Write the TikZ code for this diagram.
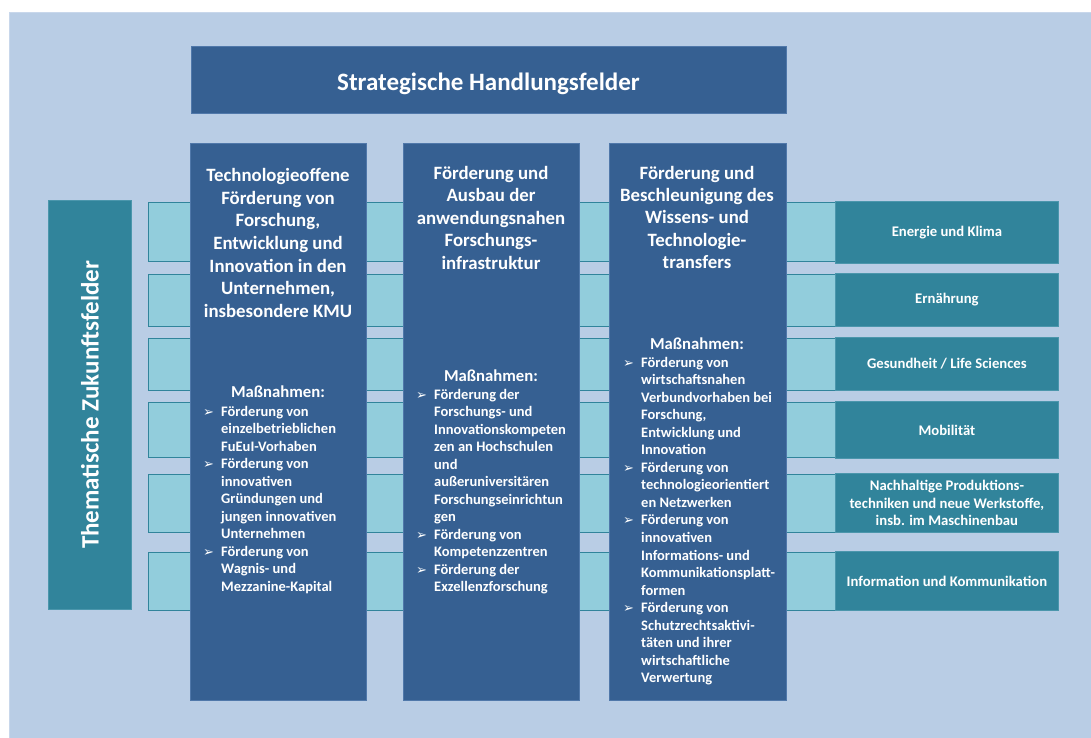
\documentclass[tikz,border=0pt]{standalone}
\usepackage{fontspec}
\setmainfont{Carlito}
\newfontfamily\dejavu{DejaVu Sans}
\definecolor{panelbg}{RGB}{185,205,229}
\definecolor{panelline}{RGB}{200,215,235}
\definecolor{darkblue}{RGB}{54,96,146}
\definecolor{darkblueline}{RGB}{80,120,170}
\definecolor{tealbox}{RGB}{49,132,155}
\definecolor{tealline}{RGB}{75,150,172}
\definecolor{cyanstrip}{RGB}{146,205,220}
\definecolor{stripline}{RGB}{49,132,155}
\newcommand{\bul}{\makebox[18pt][l]{{\dejavu\fontsize{13}{13}\selectfont ➢}}}
\newcommand{\ind}{\hspace*{18pt}}
\tikzset{
  panel/.style={fill=panelbg, draw=panelline, line width=0.6pt, inner sep=0pt, anchor=north west},
  colbox/.style={fill=darkblue, draw=darkblueline, line width=0.8pt, inner sep=0pt, anchor=north west},
  fieldbox/.style={fill=tealbox, draw=tealline, line width=0.8pt, inner sep=0pt, anchor=north west},
  stripbox/.style={fill=cyanstrip, draw=stripline, line width=1.3pt, inner sep=0pt, anchor=north west},
  headtxt/.style={text=white, inner sep=0pt, font=\bfseries},
  listtxt/.style={text=white, inner sep=0pt, font=\bfseries},
  masstxt/.style={text=white, inner sep=0pt, font=\bfseries\fontsize{16.7}{19}\selectfont},
  fieldtxt/.style={text=white, inner sep=0pt, align=center, font=\bfseries\fontsize{14.7}{17.8}\selectfont},
}
\begin{document}
\begin{tikzpicture}[x=1pt,y=-1pt]
\useasboundingbox (0,0) rectangle (1091,738);
\fill[white] (0,0) rectangle (1091,738);
\node[panel, minimum width=1090, minimum height=733] (bg) at (9,12) {};

% strips
\node[stripbox, minimum width=697, minimum height=59] (s1) at (148,202) {};
\node[stripbox, minimum width=697, minimum height=52] (s2) at (148,274) {};
\node[stripbox, minimum width=697, minimum height=52] (s3) at (148,338) {};
\node[stripbox, minimum width=697, minimum height=55] (s4) at (148,402) {};
\node[stripbox, minimum width=697, minimum height=58] (s5) at (148,474) {};
\node[stripbox, minimum width=697, minimum height=58] (s6) at (148,552) {};

% field boxes
\node[fieldbox, minimum width=223, minimum height=62] (f1) at (835,201) {};
\node[fieldbox, minimum width=223, minimum height=53] (f2) at (835,273) {};
\node[fieldbox, minimum width=223, minimum height=53] (f3) at (835,337) {};
\node[fieldbox, minimum width=223, minimum height=57] (f4) at (835,401) {};
\node[fieldbox, minimum width=223, minimum height=59] (f5) at (835,473) {};
\node[fieldbox, minimum width=223, minimum height=59] (f6) at (835,551) {};
\node[fieldtxt] (t1) at (f1.center) {Energie und Klima};
\node[fieldtxt] (t2) at (f2.center) {Ernährung};
\node[fieldtxt] (t3) at (f3.center) {Gesundheit / Life Sciences};
\node[fieldtxt] (t4) at (f4.center) {Mobilität};
\node[fieldtxt] (t5) at (f5.center) {Nachhaltige Produktions-\\techniken und neue Werkstoffe,\\insb. im Maschinenbau};
\node[fieldtxt] (t6) at (f6.center) {Information und Kommunikation};

% left box
\node[fieldbox, minimum width=83, minimum height=409] (lb) at (48,200) {};
\node[text=white, inner sep=0pt, rotate=90, font=\bfseries\fontsize{25}{29}\selectfont] (vt) at (lb.center) {Thematische Zukunftsfelder};

% title
\node[colbox, minimum width=595, minimum height=67] (title) at (191,46) {};
\node[text=white, inner sep=0pt, anchor=base, font=\bfseries\fontsize{25}{29}\selectfont] (tt) at (488.5,91) {Strategische Handlungsfelder};

% columns
\node[colbox, minimum width=176, minimum height=557] (c1) at (190,143) {};
\node[colbox, minimum width=176, minimum height=557] (c2) at (403,143) {};
\node[colbox, minimum width=177, minimum height=557] (c3) at (609,143) {};

\node[headtxt, anchor=base] (c1h) at (278,182) {\parbox[t]{175pt}{\centering\fontsize{18.8}{22.5}\selectfont Technologieoffene\\Förderung von\\Forschung,\\Entwicklung und\\Innovation in den\\Unternehmen,\\insbesondere KMU}};
\node[headtxt, anchor=base] (c2h) at (491,179) {\parbox[t]{175pt}{\centering\fontsize{18.8}{22.6}\selectfont Förderung und\\Ausbau der\\anwendungsnahen\\Forschungs-\\infrastruktur}};
\node[headtxt, anchor=base] (c3h) at (697,179) {\parbox[t]{176pt}{\centering\fontsize{18.8}{22.4}\selectfont Förderung und\\Beschleunigung des\\Wissens- und\\Technologie-\\transfers}};

\node[masstxt, anchor=base] (c1mh) at (278,397) {Maßnahmen:};
\node[masstxt, anchor=base] (c2mh) at (491,381) {Maßnahmen:};
\node[masstxt, anchor=base] (c3mh) at (697,349) {Maßnahmen:};

\node[listtxt, anchor=base west] (c1m) at (203,416) {\parbox[t]{180pt}{\raggedright\fontsize{14.5}{17.5}\selectfont
\bul Förderung von\\ \ind einzelbetrieblichen\\ \ind FuEuI-Vorhaben\\
\bul Förderung von\\ \ind innovativen\\ \ind Gründungen und\\ \ind jungen innovativen\\ \ind Unternehmen\\
\bul Förderung von\\ \ind Wagnis- und\\ \ind Mezzanine-Kapital}};

\node[listtxt, anchor=base west] (c2m) at (416,399) {\parbox[t]{180pt}{\raggedright\fontsize{14.5}{17.5}\selectfont
\bul Förderung der\\ \ind Forschungs- und\\ \ind Innovationskompeten\\ \ind zen an Hochschulen\\ \ind und\\ \ind außeruniversitären\\ \ind Forschungseinrichtun\\ \ind gen\\
\bul Förderung von\\ \ind Kompetenzzentren\\
\bul Förderung der\\ \ind Exzellenzforschung}};

\node[listtxt, anchor=base west] (c3m) at (623,367) {\parbox[t]{180pt}{\raggedright\fontsize{14.5}{17.55}\selectfont
\bul Förderung von\\ \ind wirtschaftsnahen\\ \ind Verbundvorhaben bei\\ \ind Forschung,\\ \ind Entwicklung und\\ \ind Innovation\\
\bul Förderung von\\ \ind technologieorientiert\\ \ind en Netzwerken\\
\bul Förderung von\\ \ind innovativen\\ \ind Informations- und\\ \ind Kommunikationsplatt-\\ \ind formen\\
\bul Förderung von\\ \ind Schutzrechtsaktivi-\\ \ind täten und ihrer\\ \ind wirtschaftliche\\ \ind Verwertung}};
\end{tikzpicture}
\end{document}
